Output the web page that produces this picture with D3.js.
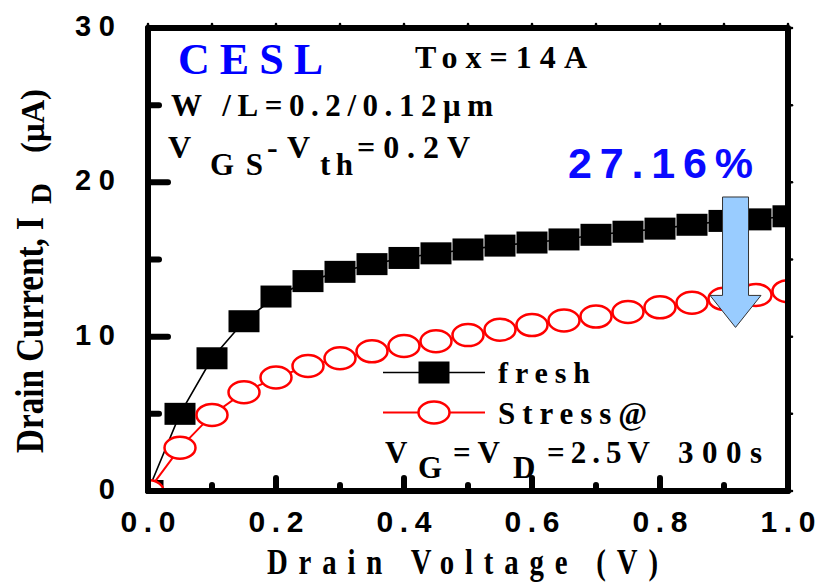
<!DOCTYPE html>
<html>
<head>
<meta charset="utf-8">
<script src="https://cdn.jsdelivr.net/npm/d3@7"></script>
<style>
  html, body { margin: 0; padding: 0; background: #fff; }
  svg { display: block; }
</style>
</head>
<body>
<svg id="chart" width="815" height="584"></svg>
<script>
// Drain current vs. drain voltage, before and after hot-carrier stress
const drainVoltage = [0.00, 0.05, 0.10, 0.15, 0.20, 0.25, 0.30, 0.35, 0.40, 0.45, 0.50,
                      0.55, 0.60, 0.65, 0.70, 0.75, 0.80, 0.85, 0.90, 0.95, 1.00];
const freshCurrent = [0.0, 5.0, 8.6, 11.0, 12.6, 13.6, 14.2, 14.7, 15.1, 15.4, 15.65,
                      15.9, 16.1, 16.3, 16.6, 16.8, 17.0, 17.25, 17.5, 17.6, 17.8];
const stressCurrent = [0.0, 2.8, 4.93, 6.4, 7.35, 8.1, 8.6, 9.05, 9.4, 9.7, 10.1,
                       10.45, 10.75, 11.05, 11.3, 11.6, 11.9, 12.2, 12.45, 12.7, 12.95];

const xMajorTicks = [0.0, 0.2, 0.4, 0.6, 0.8, 1.0];
const xMinorTicks = [0.1, 0.3, 0.5, 0.7, 0.9];
const xTickLabels = ["0.0", "0.2", "0.4", "0.6", "0.8", "1.0"];
const yMajorTicks = [0, 10, 20, 30];
const yMinorTicks = [5, 15, 25];
const yTickLabels = ["0", "10", "20", "30"];

// degradation arrow: voltage position, from / to current
const arrowAt = 0.918;
const arrowFrom = 19.05;
const arrowTo = 10.6;

const SERIF = "'Liberation Serif','Times New Roman',serif";
const SANS = "'Liberation Sans',Arial,sans-serif";

const svg = d3.select("#chart");
const plotL = 148, plotR = 788, plotT = 28, plotB = 491;

const x = d3.scaleLinear().domain([0, 1]).range([plotL, plotR]);
const y = d3.scaleLinear().domain([0, 30]).range([plotB, plotT]);

function txt(str, px, py, size, len, o = {}) {
  const t = svg.append("text")
    .attr("x", px).attr("y", py)
    .attr("font-family", o.family || SERIF)
    .attr("font-weight", "bold")
    .attr("font-size", size)
    .attr("fill", o.fill || "#000")
    .attr("text-anchor", o.anchor || "start")
    .text(str);
  if (len) t.attr("textLength", len).attr("lengthAdjust", o.adjust || "spacing");
  if (o.transform) t.attr("x", 0).attr("y", 0).attr("transform", o.transform);
  return t;
}

// ---- data ----
svg.append("defs").append("clipPath").attr("id", "plotClip")
  .append("rect").attr("x", plotL).attr("y", plotT)
  .attr("width", plotR - plotL).attr("height", plotB - plotT);

const plot = svg.append("g").attr("clip-path", "url(#plotClip)");

const freshPts = drainVoltage.map((v, i) => [v, freshCurrent[i]]);
const stressPts = drainVoltage.map((v, i) => [v, stressCurrent[i]]);
const line = d3.line().x(d => x(d[0])).y(d => y(d[1]));

plot.append("path").datum(freshPts)
  .attr("d", line).attr("fill", "none").attr("stroke", "#000").attr("stroke-width", 1.6);
plot.selectAll("rect.fresh").data(freshPts).enter().append("rect")
  .attr("class", "fresh")
  .attr("x", d => x(d[0]) - 15.5).attr("y", d => y(d[1]) - 11)
  .attr("width", 31).attr("height", 22)
  .attr("fill", "#000");

plot.append("path").datum(stressPts)
  .attr("d", line).attr("fill", "none").attr("stroke", "#ff0000").attr("stroke-width", 2);
plot.selectAll("ellipse.stress").data(stressPts).enter().append("ellipse")
  .attr("class", "stress")
  .attr("cx", d => x(d[0])).attr("cy", d => y(d[1]))
  .attr("rx", 15.5).attr("ry", 11)
  .attr("fill", "#fff").attr("stroke", "#ff0000").attr("stroke-width", 2.5);

// ---- axes: frame plus inward ticks ----
const axes = svg.append("g").attr("stroke", "#000").attr("stroke-linecap", "round");

function tickSet(values, pos, x1, y1, x2, y2, w) {
  axes.append("g").selectAll("line").data(values).enter().append("line")
    .attr("x1", d => x1(pos(d))).attr("y1", d => y1(pos(d)))
    .attr("x2", d => x2(pos(d))).attr("y2", d => y2(pos(d)))
    .attr("stroke-width", w);
}
// bottom (inward, upward)
tickSet(xMajorTicks, x, p => p, () => plotB, p => p, () => plotB - 13, 6);
tickSet(xMinorTicks, x, p => p, () => plotB, p => p, () => plotB - 6, 6);
// left (inward, rightward)
tickSet(yMajorTicks, y, () => plotL, p => p, () => plotL + 20, p => p, 6);
tickSet(yMinorTicks, y, () => plotL, p => p, () => plotL + 11, p => p, 6);
// small nubs on top and right edges
tickSet(d3.merge([xMajorTicks, xMinorTicks]), x, p => p, () => plotT, p => p, () => plotT - 4, 2.5);
tickSet(d3.merge([yMajorTicks, yMinorTicks]), y, () => plotR, p => p, () => plotR + 4, p => p, 2.5);

svg.append("rect")
  .attr("x", plotL).attr("y", plotT).attr("width", plotR - plotL).attr("height", plotB - plotT)
  .attr("fill", "none").attr("stroke", "#000").attr("stroke-width", 6).attr("stroke-linejoin", "round");

// tick labels
xMajorTicks.forEach((v, i) => txt(xTickLabels[i], x(v), 532, 30, 55, { family: SANS, anchor: "middle" }));
yMajorTicks.forEach((v, i) => {
  const s = yTickLabels[i];
  txt(s, 115, y(v) + 8, 29, s.length > 1 ? 40 : null, { family: SANS, anchor: "end" });
});

// axis titles (condensed bold serif)
txt("Drain Voltage (V)", 0, 0, 36, 391 / 0.8, { transform: "translate(267,574) scale(0.8,1)" });
txt("Drain Current, I", 0, 0, 39, 236, { adjust: "spacingAndGlyphs", transform: "translate(43,453) rotate(-90)" });
txt("D", 0, 0, 29, null, { transform: "translate(51,204) rotate(-90)" });
txt("(\u03bcA)", 0, 0, 33, 64, { adjust: "spacingAndGlyphs", transform: "translate(44,153) rotate(-90)" });

// ---- annotations ----
txt("CESL", 178, 74, 44, 145, { fill: "#0000ff" });
txt("Tox=14A", 415, 68, 32, 172);
txt("W /L=0.2/0.12\u03bcm", 171, 116, 31, 322);
txt("V", 168, 158, 32);
txt("GS", 210, 175, 31, 53);
txt("-V", 267, 158, 32, 43);
txt("th", 320, 175, 31, 33);
txt("=0.2V", 357, 158, 32, 113);

txt("27.16%", 568, 178, 43, 185, { family: SANS, fill: "#0a0aff" });

// arrow from fresh to stressed level
{
  const ax = x(arrowAt), y0 = y(arrowFrom), y1 = y(arrowTo);
  const hw = 13, headW = 25.5, headH = 32;
  const pts = [[ax - hw, y0], [ax + hw, y0], [ax + hw, y1 - headH], [ax + headW, y1 - headH],
               [ax, y1], [ax - headW, y1 - headH], [ax - hw, y1 - headH]];
  svg.append("polygon")
    .attr("points", pts.map(p => p.join(",")).join(" "))
    .attr("fill", "#99ccff").attr("stroke", "#333").attr("stroke-width", 1);
}

// ---- legend ----
svg.append("line").attr("x1", 383).attr("x2", 485).attr("y1", 372.5).attr("y2", 372.5)
  .attr("stroke", "#000").attr("stroke-width", 1.6);
svg.append("rect").attr("x", 434 - 15.5).attr("y", 372.5 - 11).attr("width", 31).attr("height", 22).attr("fill", "#000");
svg.append("line").attr("x1", 383).attr("x2", 485).attr("y1", 412.5).attr("y2", 412.5)
  .attr("stroke", "#ff0000").attr("stroke-width", 2);
svg.append("ellipse").attr("cx", 434).attr("cy", 412.5).attr("rx", 15.5).attr("ry", 11)
  .attr("fill", "#fff").attr("stroke", "#ff0000").attr("stroke-width", 2.5);
txt("fresh", 498, 383, 30, 92);
txt("Stress@", 498, 424, 31, 149);
txt("V", 385, 463, 31);
txt("G", 418, 478, 31);
txt("=V", 453, 463, 31, 47);
txt("D", 513, 478, 31);
txt("=2.5V", 547, 463, 31, 103);
txt("300s", 678, 463, 31, 84);
</script>
</body>
</html>
